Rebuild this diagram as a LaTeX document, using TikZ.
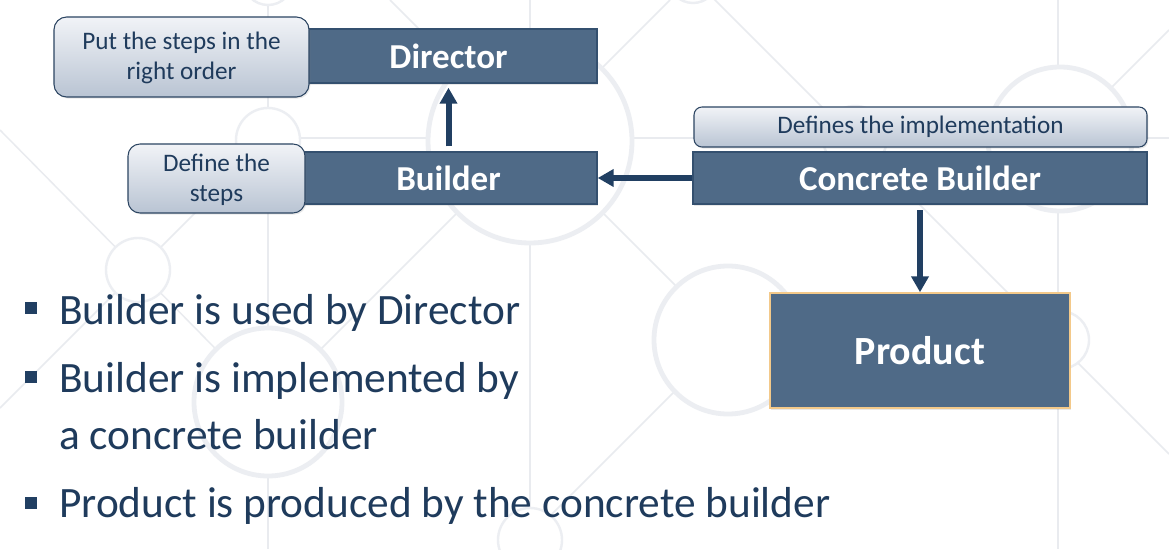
\documentclass[tikz,border=0pt]{standalone}
\usepackage{fontspec}
\setmainfont{Carlito}
\usetikzlibrary{arrows.meta,shadows}
\definecolor{boxfill}{HTML}{4F6A87}
\definecolor{boxline}{HTML}{34506F}
\definecolor{navy}{HTML}{213F62}
\definecolor{txt}{HTML}{1F3B5C}
\definecolor{calltop}{HTML}{F1F3F7}
\definecolor{callbot}{HTML}{B9C4D3}
\definecolor{callline}{HTML}{2C4562}
\definecolor{prodline}{HTML}{F3C98A}
\definecolor{bgring}{HTML}{ECEEF2}
\definecolor{bgline}{HTML}{E9EBEF}
\begin{document}
\begin{tikzpicture}[x=0.75pt,y=-0.75pt,
  bgl/.style={draw=bgline,line width=1.1pt},
  ringthick/.style={draw=bgring,fill=white,line width=3.6pt},
  ringthin/.style={draw=bgring,fill=white,line width=1.8pt},
  softshadow/.style={drop shadow={opacity=0.18,shadow xshift=1pt,shadow yshift=-1.2pt}},
  box/.style={draw=boxline,line width=1.1pt,fill=boxfill,text=white,
    font=\bfseries\fontsize{26.25}{30}\selectfont,inner sep=0pt,softshadow},
  callout/.style={draw=callline,line width=0.8pt,top color=calltop,bottom color=callbot,
    text=txt,font=\fontsize{18.9}{22.5}\selectfont,align=center,inner sep=0pt,softshadow},
  link/.style={draw=navy,line width=4.5pt,-{Triangle[width=12.75pt,length=12pt]}},
  bullettext/.style={text=txt,font=\fontsize{32.5}{37}\selectfont,anchor=base west,inner sep=0pt},
  sq/.style={fill=navy,minimum size=9pt,inner sep=0pt}]
\useasboundingbox (0,0) rectangle (1169,549);
\fill[white] (0,0) rectangle (1169,549);
% background decoration
\begin{scope}
\clip (0,0) rectangle (1169,549);
\draw[bgl] (268,0) -- (268,549);
\draw[bgl] (530,0) -- (530,549);
\draw[bgl] (1058,0) -- (1058,549);
\draw[bgl] (268,138) -- (1169,138);
\draw[bgl] (0,130) -- (138,270) -- (268,140);
\draw[bgl] (0,408) -- (138,270) -- (268,402) -- (530,140) -- (670,0);
\draw[bgl] (390,0) -- (530,140) -- (728,338) -- (530,536);
\draw[bgl] (693,-22) -- (1060,345) -- (1169,454);
\draw[bgl] (1060,139) -- (1169,30);
\draw[ringthin] (268,-20) circle[radius=25];
\draw[ringthin] (268,140) circle[radius=32];
\draw[ringthin] (138,270) circle[radius=32];
\draw[ringthick] (268,402) circle[radius=74];
\draw[ringthick] (530,141) circle[radius=102];
\draw[ringthin] (693,-22) circle[radius=25];
\draw[ringthin] (855,138) circle[radius=32];
\draw[ringthick] (1060,139) circle[radius=72];
\draw[ringthick] (728,340) circle[radius=74];
\draw[ringthin] (1060,340) circle[radius=29];
\draw[ringthin] (530,540) circle[radius=32];
\end{scope}
% main boxes
\node[box,minimum width=222.75pt,minimum height=40.5pt] (dir) at (448.5,56) {Director};
\node[box,minimum width=222.75pt,minimum height=39pt] (bld) at (448.5,178) {Builder};
\node[box,minimum width=340.5pt,minimum height=39pt] (cbld) at (920,178) {Concrete Builder};
\node[box,draw=prodline,minimum width=225pt,minimum height=86.25pt,
  font=\bfseries\fontsize{30}{34}\selectfont] (prod) at (920,350.5) {Product};
% callouts
\node[callout,rounded corners=9.5pt,minimum width=191.25pt,minimum height=60pt] (c1) at (181.5,57) {\rule{0pt}{15pt}Put the steps in the\\right order};
\node[callout,rounded corners=9pt,minimum width=132.75pt,minimum height=51.75pt] (c2) at (216.5,178.5) {\rule{0pt}{15pt}Define the\\steps};
\node[callout,rounded corners=6pt,minimum width=339.75pt,minimum height=30pt] (c3) at (920.5,127) {\rule{0pt}{11pt}Defines the implementation};
% connectors
\draw[link] ([yshift=3.75pt]bld.north) -- ([yshift=-3pt]dir.south);
\draw[link] (cbld.west) -- (bld.east);
\draw[link] ([yshift=-4pt]cbld.south) -- (prod.north);
% bullets
\node[sq] (s1) at (31,308) {};
\node[sq] (s2) at (31,377) {};
\node[sq] (s3) at (31,503) {};
\node[bullettext] (t1) at (59,324) {Builder is used by Director};
\node[bullettext] (t2) at (59,392) {Builder is implemented by};
\node[bullettext] (t3) at (59,449) {a concrete builder};
\node[bullettext] (t4) at (59,517) {Product is produced by the concrete builder};
\end{tikzpicture}
\end{document}
